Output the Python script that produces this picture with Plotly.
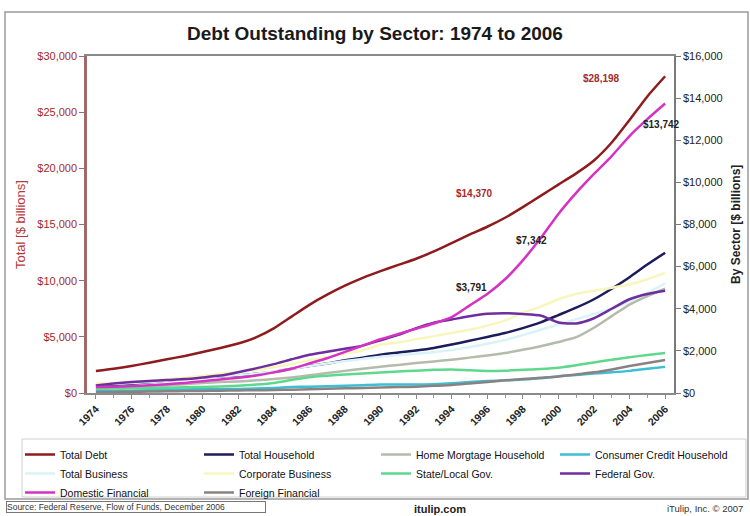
import plotly.graph_objects as go

years = list(range(1974, 2007))

total_debt = [1960, 2150, 2400, 2700, 3000, 3300, 3650, 4000, 4400, 4950, 5750, 6800, 7850,
              8750, 9550, 10250, 10850, 11400, 11950, 12600, 13350, 14100, 14800, 15600, 16550,
              17550, 18550, 19550, 20700, 22300, 24300, 26400, 28198]
total_household = [360, 390, 440, 510, 590, 670, 740, 790, 830, 910, 1000, 1150, 1280, 1400, 1550,
                   1680, 1820, 1920, 2020, 2140, 2300, 2480, 2660, 2850, 3080, 3350, 3700, 4050,
                   4450, 4950, 5500, 6100, 6660]
home_mortgage = [220, 240, 270, 310, 360, 420, 480, 520, 550, 600, 660, 740, 840, 950, 1050, 1150,
                 1250, 1330, 1420, 1500, 1580, 1680, 1780, 1900, 2050, 2220, 2420, 2650, 3100,
                 3650, 4200, 4600, 4950]
consumer_credit = [100, 100, 110, 130, 150, 170, 180, 180, 190, 210, 240, 280, 300, 320, 340, 370,
                   400, 400, 400, 420, 460, 520, 570, 600, 640, 700, 800, 860, 920, 980, 1050,
                   1150, 1240]
total_business = [400, 430, 470, 520, 580, 650, 720, 790, 850, 920, 1020, 1150, 1280, 1400, 1520,
                  1620, 1720, 1790, 1860, 1940, 2040, 2180, 2340, 2520, 2750, 3000, 3250, 3500,
                  3750, 4000, 4350, 4750, 5200]
corporate_business = [450, 480, 520, 580, 650, 730, 820, 920, 1000, 1080, 1220, 1380, 1550, 1700,
                      1880, 2020, 2300, 2400, 2550, 2700, 2850, 3000, 3200, 3450, 3800, 4100, 4450,
                      4700, 4850, 5000, 5150, 5400, 5700]
state_local = [200, 210, 220, 230, 250, 270, 290, 310, 340, 400, 480, 620, 750, 820, 880, 930, 970,
               1020, 1060, 1100, 1120, 1080, 1050, 1060, 1100, 1140, 1200, 1320, 1450, 1580, 1700,
               1800, 1900]
federal_gov = [360, 450, 520, 570, 620, 660, 740, 830, 990, 1170, 1370, 1600, 1820, 1960, 2100,
               2250, 2500, 2760, 3080, 3340, 3490, 3640, 3760, 3791, 3750, 3680, 3350, 3300, 3550,
               4000, 4450, 4700, 4850]
domestic_financial = [280, 300, 330, 370, 420, 480, 560, 640, 720, 830, 980, 1150, 1400, 1650, 1950,
                      2250, 2550, 2800, 3050, 3300, 3600, 4150, 4700, 5400, 6300, 7342, 8500, 9500,
                      10400, 11250, 12200, 13000, 13742]
foreign_financial = [40, 50, 60, 70, 80, 90, 100, 110, 120, 130, 140, 160, 180, 200, 220, 240, 260,
                     280, 300, 340, 380, 450, 520, 600, 660, 720, 780, 880, 980, 1120, 1280, 1420,
                     1570]

# (name, values, colour, axis, legend column)
series = [
    ("Total Debt", total_debt, "#8e1b1e", "y", "legend"),
    ("Total Household", total_household, "#1c1c5c", "y2", "legend2"),
    ("Home Morgtage Household", home_mortgage, "#b3bcab", "y2", "legend3"),
    ("Consumer Credit Household", consumer_credit, "#3cbfd2", "y2", "legend4"),
    ("Total Business", total_business, "#d9f3f7", "y2", "legend"),
    ("Corporate Business", corporate_business, "#f8f6bd", "y2", "legend2"),
    ("State/Local Gov.", state_local, "#5fd88e", "y2", "legend3"),
    ("Federal Gov.", federal_gov, "#6f2ea0", "y2", "legend4"),
    ("Domestic Financial", domestic_financial, "#d532c3", "y2", "legend"),
    ("Foreign Financial", foreign_financial, "#8a8282", "y2", "legend2"),
]

FONT = "Liberation Sans, Arial, sans-serif"
W, H = 750, 516

fig = go.Figure()
for name, vals, color, yax, lg in series:
    fig.add_trace(go.Scatter(x=years, y=vals, name=name, mode="lines", yaxis=yax, legend=lg,
                             line=dict(color=color, width=2.5, shape="spline", smoothing=0.6)))

# plot area in pixels: x 87..674, y 56..393
L, R, T, B = 87, 674, 56, 393
def px(x):
    return (x - L) / (R - L)
def py(y):
    return (B - y) / (B - T)

LEG_TOP = 440
def legend_at(xpix):
    return dict(orientation="v", xref="container", yref="container", x=xpix / W,
                y=1 - LEG_TOP / H, xanchor="left", yanchor="top", borderwidth=0,
                bgcolor="rgba(0,0,0,0)", font=dict(size=10.5, color="#111"), itemwidth=30,
                tracegroupgap=0)

fig.update_layout(
    width=W, height=H,
    margin=dict(l=L, r=W - R, t=T, b=H - B, autoexpand=False),
    paper_bgcolor="white", plot_bgcolor="white",
    font=dict(family=FONT, color="#222"),
    title=dict(text="<b>Debt Outstanding by Sector: 1974 to 2006</b>", x=0.5, xanchor="center",
               y=1 - 33 / H, yanchor="middle", font=dict(size=19, color="#1a1a1a")),
    xaxis=dict(range=[1973.5, 2006.5], tickvals=list(range(1974, 2007, 2)), tickangle=-45,
               tickfont=dict(size=10.5, weight="bold", color="#222"), showgrid=False,
               zeroline=False, showline=True, linecolor="#8a8a8a", linewidth=1.5, mirror=True,
               automargin=False, ticks="outside", ticklen=4, tickcolor="#8a8a8a",
               minor=dict(dtick=1, ticks="outside", ticklen=3, tickcolor="#9a9a9a")),
    yaxis=dict(range=[0, 30000], dtick=5000, tickprefix="$", tickformat=",", showgrid=False,
               zeroline=False, showline=True, linecolor="#a06a6a", linewidth=2.5, automargin=False,
               ticks="outside", ticklen=5, tickcolor="#a06a6a",
               tickfont=dict(size=11, color="#a52a2a")),
    yaxis2=dict(range=[0, 16000], dtick=2000, tickprefix="$", tickformat=",", overlaying="y",
                side="right", showgrid=False, zeroline=False, showline=True, linecolor="#7a7a7a",
                linewidth=1.5, ticks="outside", ticklen=5, tickcolor="#7a7a7a", automargin=False,
                tickfont=dict(size=11, color="#222")),
    legend=legend_at(20),
    legend2=legend_at(199),
    legend3=legend_at(376),
    legend4=legend_at(555),
    showlegend=True,
)

ann = [
    dict(text="Total [$ billions]", x=px(20), y=py(225), textangle=-90,
         font=dict(size=13, color="#b5383a")),
    dict(text="By Sector [$ billions]", x=px(736), y=py(225), textangle=-90,
         font=dict(size=12, color="#222", weight="bold")),
    dict(text="Source: Federal Reserve, Flow of Funds, December 2006", x=px(6), y=py(507),
         xanchor="left", font=dict(size=8.5, color="#333"), bordercolor="#777", borderwidth=1,
         width=258, align="left", borderpad=0),
    dict(text="<b>itulip.com</b>", x=px(440), y=py(509), font=dict(size=11, color="#222")),
    dict(text="iTulip, Inc. © 2007", x=px(745), y=py(508), xanchor="right",
         font=dict(size=9.5, color="#333")),
]
for a in ann:
    a.update(xref="paper", yref="paper", showarrow=False)
    a.setdefault("xanchor", "center")
    a.setdefault("yanchor", "middle")
    fig.add_annotation(**a)

labels = [
    ("$28,198", 2002.4, 27960, "y", "#a52a2a"),
    ("$14,370", 1995.3, 17800, "y", "#a52a2a"),
    ("$13,742", 2005.8, 12770, "y2", "#222"),
    ("$7,342", 1998.5, 7260, "y2", "#222"),
    ("$3,791", 1995.1, 5030, "y2", "#222"),
]
for t, x, y, yr, c in labels:
    fig.add_annotation(text=t, x=x, y=y, xref="x", yref=yr, showarrow=False,
                       font=dict(size=10, color=c, weight="bold"))

# outer frame and legend box
fig.add_shape(type="rect", xref="paper", yref="paper", x0=px(5), x1=px(748), y0=py(499), y1=py(12),
              line=dict(color="#9a9a9a", width=1.5), layer="below")
fig.add_shape(type="rect", xref="paper", yref="paper", x0=px(22), x1=px(746), y0=py(497),
              y1=py(439), line=dict(color="#d0d0d0", width=1), layer="below")

fig.write_html("out.html")
